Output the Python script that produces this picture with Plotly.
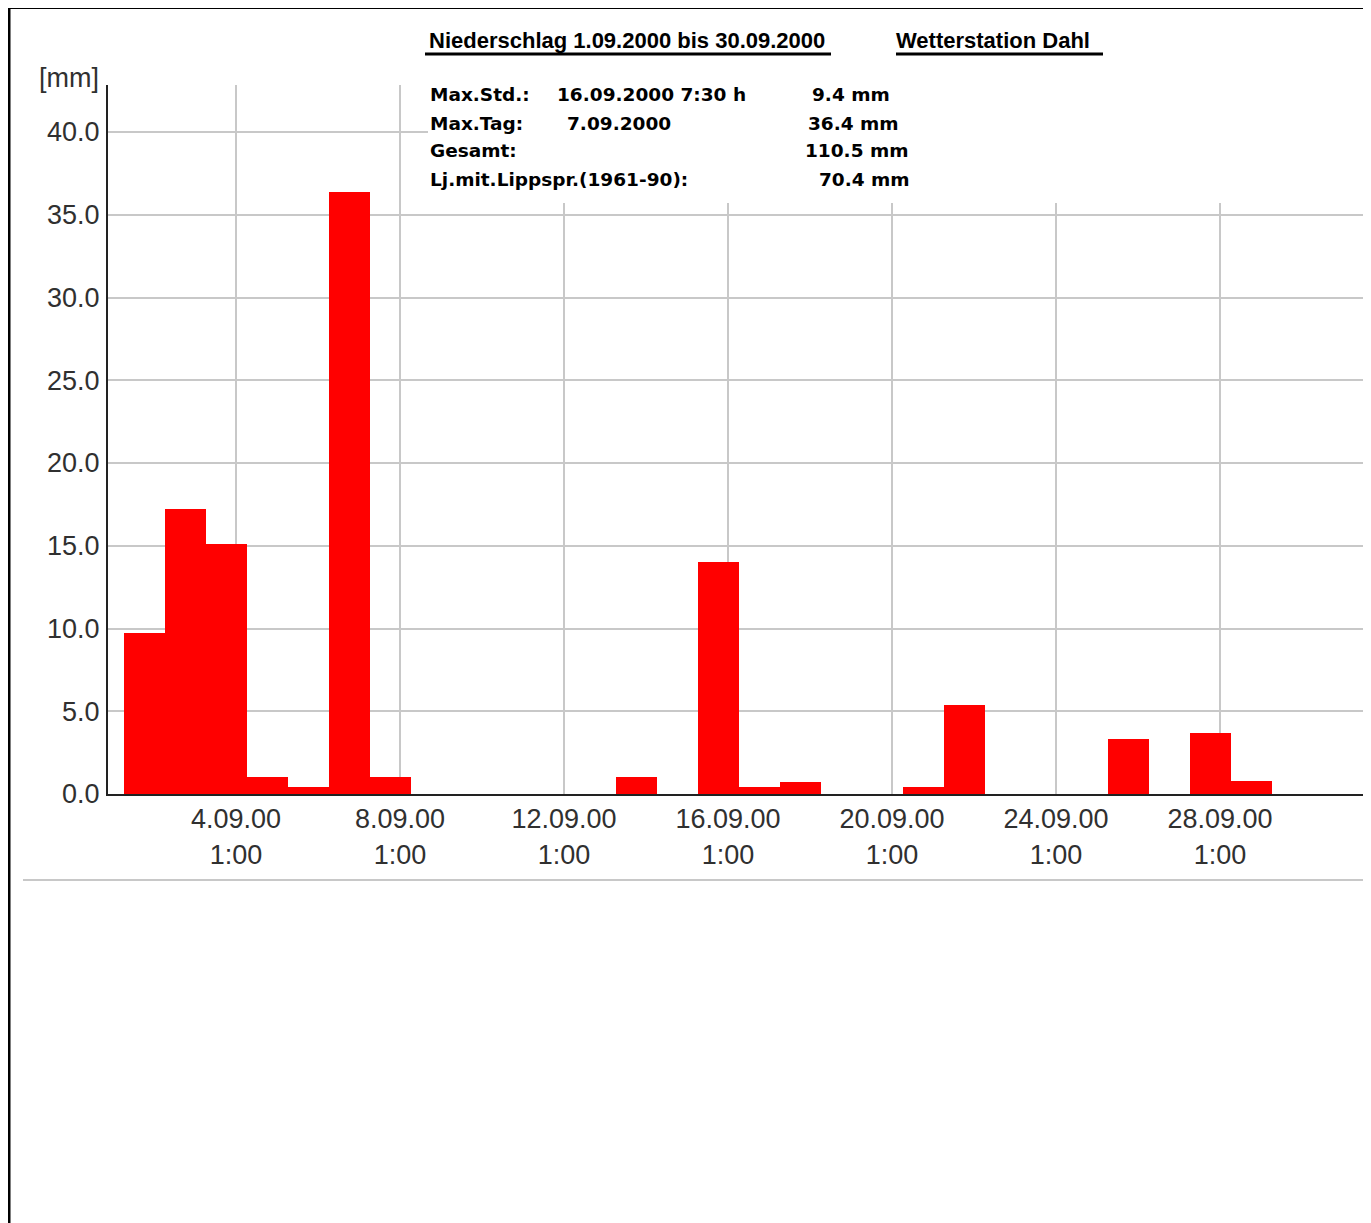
import plotly.graph_objects as go
from datetime import datetime, timedelta

# ---- data ----
# meteorological day: value dated d covers (d-1) 7:30 .. d 7:30
bar_days = list(range(2, 31))
rain_mm = [9.7, 17.2, 15.1, 1.0, 0.4, 36.4, 1.0, 0.0, 0.0, 0.0,
           0.0, 0.0, 1.0, 0.0, 14.0, 0.4, 0.7, 0.0, 0.0, 0.4,
           5.4, 0.0, 0.0, 0.0, 3.3, 0.0, 3.7, 0.8, 0.0]
tick_days = [4, 8, 12, 16, 20, 24, 28]
tick_labels = ["%d.09.00<br>1:00" % d for d in tick_days]
y_ticks = [0, 5, 10, 15, 20, 25, 30, 35, 40]

title_left = "Niederschlag 1.09.2000 bis 30.09.2000"
title_right = "Wetterstation Dahl"
stats_rows = [
    ("Max.Std.:", "16.09.2000 7:30 h", "9.4 mm"),
    ("Max.Tag:", "7.09.2000", "36.4 mm"),
    ("Gesamt:", "", "110.5 mm"),
    ("Lj.mit.Lippspr.(1961-90):", "", "70.4 mm"),
]

# ---- geometry (page pixels; page body has an 8px margin) ----
OFF = 8
PAGE_W, PAGE_H = 1371, 1223
W, H = PAGE_W - OFF, PAGE_H - OFF
AX_L, AX_R, AX_T, AX_B = 108, 1368, 85, 794   # plot area in page pixels
L, T = AX_L - OFF, AX_T - OFF
R = W - (AX_R - OFF)
B = H - (AX_B - OFF)
PW, PH = W - L - R, H - T - B


def px(x):
    return (x - OFF - L) / PW


def py(y):
    return (H - B - (y - OFF)) / PH


centers = [datetime(2000, 9, d - 1, 19, 30) for d in bar_days]
tickvals = [datetime(2000, 9, d, 1, 0) for d in tick_days]
x0 = datetime(2000, 9, 1) - timedelta(hours=1.93)
x1 = x0 + timedelta(days=PW / 41.0)

fig = go.Figure()
fig.add_trace(go.Bar(
    x=centers, y=rain_mm, width=86400000,
    marker=dict(color="#ff0000", line=dict(width=0)),
    hoverinfo="x+y", showlegend=False,
))

tick_font = dict(family="Liberation Sans, Arial, sans-serif", size=27, color="#303030")
fig.update_layout(
    width=W, height=H, autosize=False,
    margin=dict(l=L, r=R, t=T, b=B, pad=0),
    paper_bgcolor="#ffffff", plot_bgcolor="#ffffff",
    bargap=0,
    xaxis=dict(
        type="date", range=[x0, x1],
        tickvals=tickvals, ticktext=tick_labels,
        showgrid=True, gridcolor="#c8c8c8", gridwidth=2,
        showline=True, linecolor="#222222", linewidth=2,
        ticks="", tickfont=tick_font, ticklabelstandoff=0,
        zeroline=False, fixedrange=True,
    ),
    yaxis=dict(
        range=[0, PH / 16.55],
        tickvals=y_ticks, ticktext=["%.1f" % v for v in y_ticks],
        showgrid=True, gridcolor="#c8c8c8", gridwidth=2,
        showline=True, linecolor="#222222", linewidth=2,
        ticks="", tickfont=tick_font, ticklabelstandoff=1,
        zeroline=False, fixedrange=True,
    ),
)

shapes = []
# white box hiding grid behind statistics
shapes.append(dict(type="rect", xref="paper", yref="paper",
                   x0=px(428), x1=px(PAGE_W + 10), y0=py(203), y1=py(AX_T - 1),
                   fillcolor="#ffffff", line=dict(width=0), layer="above"))
# right border of plot area
shapes.append(dict(type="line", xref="paper", yref="paper",
                   x0=1, x1=1, y0=0, y1=py(203),
                   line=dict(color="#222222", width=2)))
# outer frame (left and top)
shapes.append(dict(type="line", xref="paper", yref="paper",
                   x0=px(9), x1=px(9), y0=py(6), y1=py(PAGE_H + 10),
                   line=dict(color="#000000", width=3)))
shapes.append(dict(type="line", xref="paper", yref="paper",
                   x0=px(8), x1=px(PAGE_W + 10), y0=py(7.5), y1=py(7.5),
                   line=dict(color="#000000", width=3)))
# separator line below chart
shapes.append(dict(type="line", xref="paper", yref="paper",
                   x0=px(23), x1=px(PAGE_W + 10), y0=py(880), y1=py(880),
                   line=dict(color="#c8c8c8", width=2)))
# title underlines
shapes.append(dict(type="line", xref="paper", yref="paper",
                   x0=px(425), x1=px(831), y0=py(54), y1=py(54),
                   line=dict(color="#000000", width=3)))
shapes.append(dict(type="line", xref="paper", yref="paper",
                   x0=px(896), x1=px(1103), y0=py(54), y1=py(54),
                   line=dict(color="#000000", width=3)))
fig.update_layout(shapes=shapes)

ann = []
title_font = dict(family="Liberation Sans, Arial, sans-serif", size=22, color="#000000")
ann.append(dict(text="<b>%s</b>" % title_left, xref="paper", yref="paper",
                x=px(427), y=py(40), xanchor="left", yanchor="middle",
                showarrow=False, font=title_font))
ann.append(dict(text="<b>%s</b>" % title_right, xref="paper", yref="paper",
                x=px(894), y=py(40), xanchor="left", yanchor="middle",
                showarrow=False, font=title_font))

stat_font = dict(family="DejaVu Sans, sans-serif", size=18.5, color="#000000")
row_y = [95, 123, 151, 179]
col2_x = [555, 565, None, None]
col3_x = [810, 806, 803, 817]
for i, (a, b, c) in enumerate(stats_rows):
    ann.append(dict(text="<b>%s</b>" % a, xref="paper", yref="paper",
                    x=px(428), y=py(row_y[i]), xanchor="left", yanchor="middle",
                    showarrow=False, font=stat_font))
    if b:
        ann.append(dict(text="<b>%s</b>" % b, xref="paper", yref="paper",
                        x=px(col2_x[i]), y=py(row_y[i]), xanchor="left", yanchor="middle",
                        showarrow=False, font=stat_font))
    ann.append(dict(text="<b>%s</b>" % c, xref="paper", yref="paper",
                    x=px(col3_x[i]), y=py(row_y[i]), xanchor="left", yanchor="middle",
                    showarrow=False, font=stat_font))

ann.append(dict(text="[mm]", xref="paper", yref="paper",
                x=px(101), y=py(78), xanchor="right", yanchor="middle",
                showarrow=False, font=tick_font))
fig.update_layout(annotations=ann)

fig.write_html("out.html", post_script="document.body.style.overflow='hidden';")
